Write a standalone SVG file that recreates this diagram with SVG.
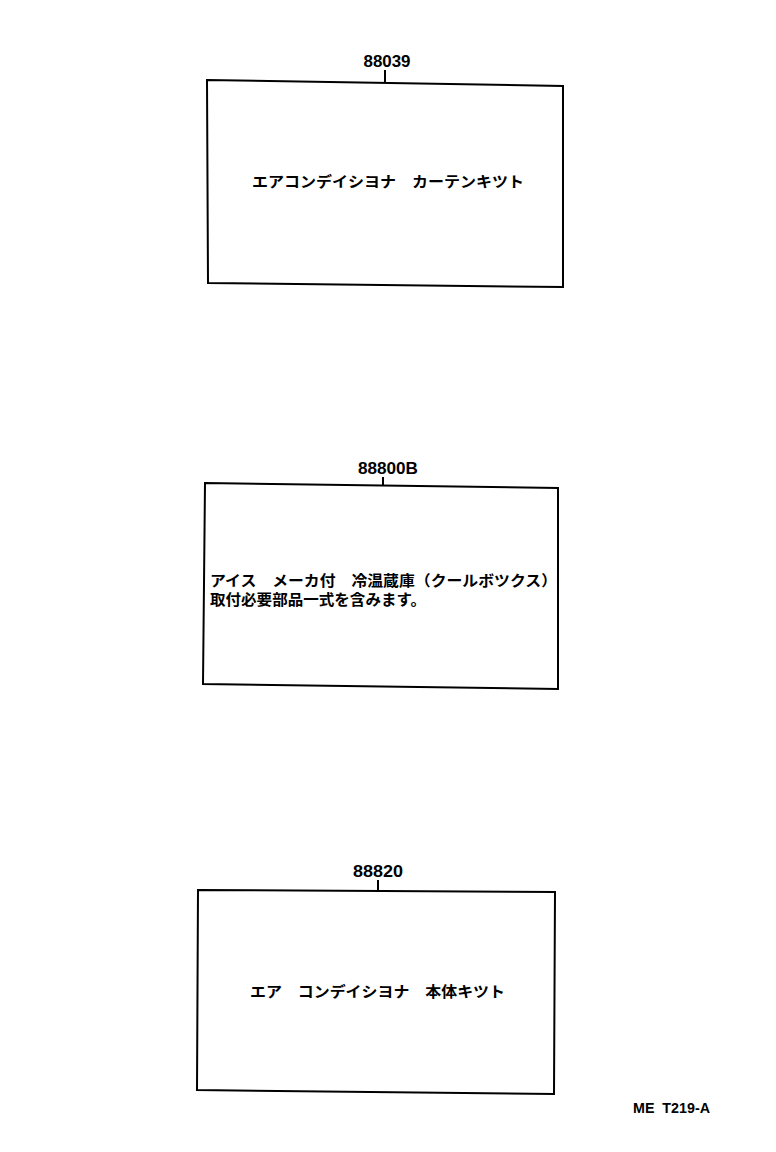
<svg xmlns="http://www.w3.org/2000/svg" width="776" height="1152" viewBox="0 0 776 1152">
<style>
.box{fill:none;stroke:#000;stroke-width:2;stroke-linejoin:miter}
.lead{stroke:#000;stroke-width:2}
.num{font-family:"Liberation Sans",Arial,sans-serif;font-size:17px;font-weight:bold;fill:#000;text-anchor:middle}
.jp{font-family:"Noto Sans CJK JP","Noto Sans",sans-serif;font-size:15px;font-weight:bold;fill:#000}
.foot{font-family:"Liberation Sans",Arial,sans-serif;font-size:14px;font-weight:bold;fill:#000}
</style>
<rect width="776" height="1152" fill="#fff"/>
<g id="connectors">
<line class="lead" x1="385" y1="70" x2="385" y2="82"/>
<line class="lead" x1="383" y1="477" x2="383" y2="486"/>
<line class="lead" x1="378" y1="880" x2="378" y2="891"/>
</g>
<g id="node-88039">
<text class="num" x="387" y="67" textLength="47" lengthAdjust="spacingAndGlyphs">88039</text>
<polygon class="box" points="207,80 563,86 563,287 208,283"/>
<text class="jp" x="252" y="187" textLength="272" lengthAdjust="spacingAndGlyphs">エアコンデイシヨナ　カーテンキツト</text>
</g>
<g id="node-88800B">
<text class="num" x="388" y="474" textLength="60" lengthAdjust="spacingAndGlyphs">88800B</text>
<polygon class="box" points="205,483 558,488 558,689 203,684"/>
<text class="jp" x="210" y="586" textLength="347" lengthAdjust="spacingAndGlyphs">アイス　メーカ付　冷温蔵庫（クールボツクス）</text>
<text class="jp" x="210" y="605" textLength="216" lengthAdjust="spacingAndGlyphs">取付必要部品一式を含みます。</text>
</g>
<g id="node-88820">
<text class="num" x="378" y="877" textLength="50" lengthAdjust="spacingAndGlyphs">88820</text>
<polygon class="box" points="198,890 555,892 554,1094 197,1090"/>
<text class="jp" x="250" y="997" textLength="255" lengthAdjust="spacingAndGlyphs">エア　コンデイシヨナ　本体キツト</text>
</g>
<text class="foot" x="633" y="1113" xml:space="preserve" textLength="77" lengthAdjust="spacingAndGlyphs">ME  T219-A</text>
</svg>
